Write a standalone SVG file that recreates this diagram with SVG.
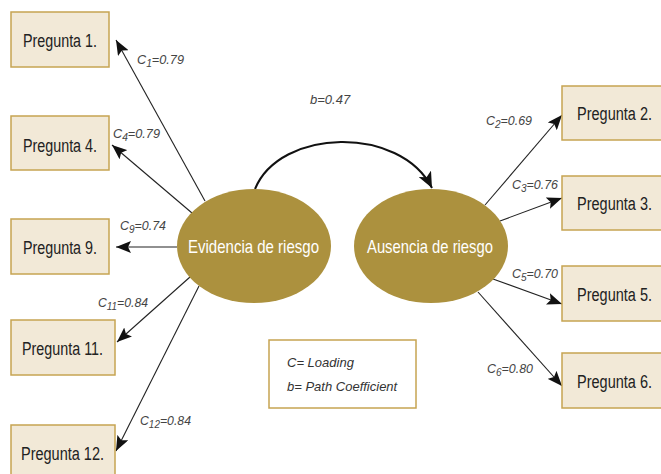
<svg xmlns="http://www.w3.org/2000/svg" width="661" height="474" viewBox="0 0 661 474">
<defs>
<marker id="ah" markerUnits="userSpaceOnUse" markerWidth="16" markerHeight="12" refX="15" refY="6" orient="auto">
<path d="M0,0 L15,6 L0,12 L3,6 Z" fill="#111"/>
</marker>
<marker id="ah2" markerUnits="userSpaceOnUse" markerWidth="18" markerHeight="14" refX="16" refY="7" orient="auto">
<path d="M0,0 L16,7 L0,14 L4,7 Z" fill="#111"/>
</marker>
<style>
.box{fill:#f2e9d7;stroke:#c6a452;stroke-width:1.5}
.bt{font-family:"Liberation Sans",Arial,sans-serif;font-size:18px;fill:#222}
.ell{fill:#ac913e}
.et{font-family:"Liberation Sans",Arial,sans-serif;font-size:19px;fill:#fff}
.ln{stroke:#222;stroke-width:1.1;fill:none;marker-end:url(#ah)}
.lb{font-family:"Liberation Sans",Arial,sans-serif;font-style:italic;font-size:13px;fill:#444}
.sub{font-size:10.5px}
.lg{fill:#fff;stroke:#c6a452;stroke-width:1.5}
.lt{font-family:"Liberation Sans",Arial,sans-serif;font-style:italic;font-size:13px;fill:#333}
</style>
</defs>
<rect width="661" height="474" fill="#fff"/>

<g id="connectors">
<line class="ln" x1="205" y1="201" x2="116" y2="40"/>
<line class="ln" x1="192" y1="213" x2="112" y2="145"/>
<line class="ln" x1="177" y1="247" x2="116" y2="247"/>
<line class="ln" x1="190" y1="277" x2="117" y2="342"/>
<line class="ln" x1="199" y1="286" x2="116" y2="451"/>
<line class="ln" x1="485" y1="205" x2="562" y2="115"/>
<line class="ln" x1="500" y1="221" x2="562" y2="198"/>
<line class="ln" x1="493" y1="279" x2="562" y2="304"/>
<line class="ln" x1="478" y1="292" x2="562" y2="386"/>
<path d="M255,189 C280,128 400,125 432,188" stroke="#111" stroke-width="2" fill="none" marker-end="url(#ah2)"/>
</g>

<g id="labels">
<text class="lb" x="137" y="64" textLength="47" lengthAdjust="spacingAndGlyphs">C<tspan class="sub" dy="3">1</tspan><tspan dy="-3">=0.79</tspan></text>
<text class="lb" x="113" y="138" textLength="47" lengthAdjust="spacingAndGlyphs">C<tspan class="sub" dy="3">4</tspan><tspan dy="-3">=0.79</tspan></text>
<text class="lb" x="120" y="230" textLength="46" lengthAdjust="spacingAndGlyphs">C<tspan class="sub" dy="3">9</tspan><tspan dy="-3">=0.74</tspan></text>
<text class="lb" x="98" y="307" textLength="50" lengthAdjust="spacingAndGlyphs">C<tspan class="sub" dy="3">11</tspan><tspan dy="-3">=0.84</tspan></text>
<text class="lb" x="140" y="425" textLength="51" lengthAdjust="spacingAndGlyphs">C<tspan class="sub" dy="3">12</tspan><tspan dy="-3">=0.84</tspan></text>
<text class="lb" x="310" y="104">b=0.47</text>
<text class="lb" x="486" y="125" textLength="46" lengthAdjust="spacingAndGlyphs">C<tspan class="sub" dy="3">2</tspan><tspan dy="-3">=0.69</tspan></text>
<text class="lb" x="512" y="189" textLength="46" lengthAdjust="spacingAndGlyphs">C<tspan class="sub" dy="3">3</tspan><tspan dy="-3">=0.76</tspan></text>
<text class="lb" x="512" y="278" textLength="46" lengthAdjust="spacingAndGlyphs">C<tspan class="sub" dy="3">5</tspan><tspan dy="-3">=0.70</tspan></text>
<text class="lb" x="487" y="373" textLength="46" lengthAdjust="spacingAndGlyphs">C<tspan class="sub" dy="3">6</tspan><tspan dy="-3">=0.80</tspan></text>
</g>

<g id="q1"><rect class="box" x="11" y="12" width="98" height="55"/><text class="bt" x="23" y="47" textLength="74" lengthAdjust="spacingAndGlyphs">Pregunta 1.</text></g>
<g id="q4"><rect class="box" x="11" y="116" width="98" height="54"/><text class="bt" x="23" y="152" textLength="74" lengthAdjust="spacingAndGlyphs">Pregunta 4.</text></g>
<g id="q9"><rect class="box" x="11" y="219" width="98" height="55"/><text class="bt" x="23" y="254" textLength="74" lengthAdjust="spacingAndGlyphs">Pregunta 9.</text></g>
<g id="q11"><rect class="box" x="11" y="320" width="104" height="55"/><text class="bt" x="22" y="355" textLength="81" lengthAdjust="spacingAndGlyphs">Pregunta 11.</text></g>
<g id="q12"><rect class="box" x="11" y="425" width="104" height="60"/><text class="bt" x="21" y="460" textLength="83" lengthAdjust="spacingAndGlyphs">Pregunta 12.</text></g>

<g id="q2"><rect class="box" x="562" y="86" width="100" height="54"/><text class="bt" x="577" y="120" textLength="75" lengthAdjust="spacingAndGlyphs">Pregunta 2.</text></g>
<g id="q3"><rect class="box" x="562" y="176" width="100" height="54"/><text class="bt" x="577" y="210" textLength="75" lengthAdjust="spacingAndGlyphs">Pregunta 3.</text></g>
<g id="q5"><rect class="box" x="562" y="266" width="100" height="55"/><text class="bt" x="577" y="301" textLength="75" lengthAdjust="spacingAndGlyphs">Pregunta 5.</text></g>
<g id="q6"><rect class="box" x="562" y="353" width="100" height="55"/><text class="bt" x="577" y="388" textLength="75" lengthAdjust="spacingAndGlyphs">Pregunta 6.</text></g>

<g id="evidencia"><ellipse class="ell" cx="254" cy="246" rx="77" ry="57"/><text class="et" x="188" y="253" textLength="131" lengthAdjust="spacingAndGlyphs">Evidencia de riesgo</text></g>
<g id="ausencia"><ellipse class="ell" cx="431" cy="246" rx="77" ry="57"/><text class="et" x="367" y="253" textLength="126" lengthAdjust="spacingAndGlyphs">Ausencia de riesgo</text></g>

<g id="legend"><rect class="lg" x="269" y="340" width="147" height="68"/><text class="lt" x="287" y="367">C= Loading</text><text class="lt" x="287" y="391">b= Path Coefficient</text></g>
</svg>
